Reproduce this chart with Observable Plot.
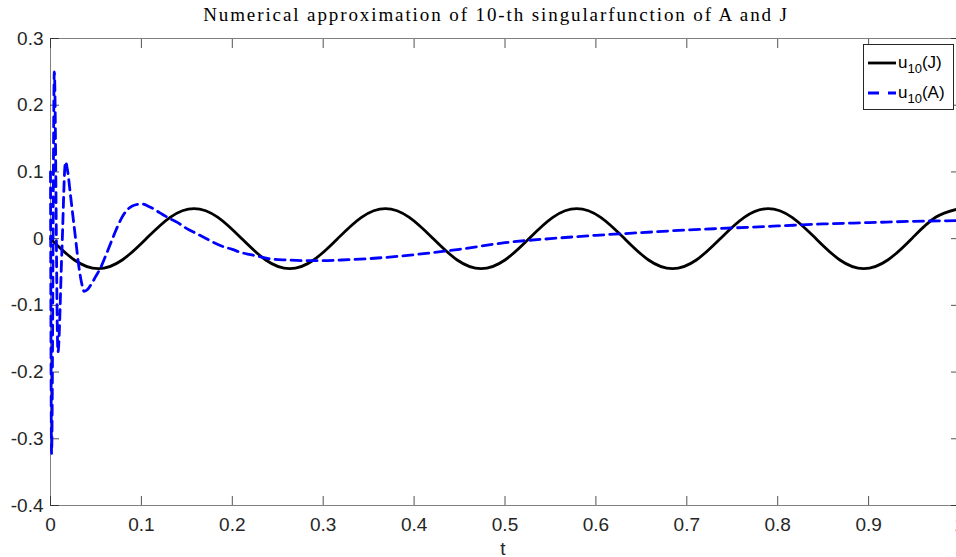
<!DOCTYPE html>
<html><head><meta charset="utf-8">
<script src="https://cdn.jsdelivr.net/npm/d3@7"></script>
<script src="https://cdn.jsdelivr.net/npm/@observablehq/plot@0.6"></script>
<style>
html,body{margin:0;padding:0;background:#fff;overflow:hidden;}
#wrap{position:relative;width:956px;height:557px;overflow:hidden;}
#legend{position:absolute;left:863px;top:44px;width:91px;height:66px;border:1px solid #262626;background:#fff;font-family:"Liberation Sans",Arial,sans-serif;font-size:17px;color:#000;box-sizing:border-box;}
#legend .row{position:absolute;left:3px;height:22px;display:flex;align-items:center;white-space:nowrap;}
#legend sub{font-size:13px;vertical-align:-5px;line-height:0;}
</style></head>
<body><div id="wrap"></div>
<script>
const title = "Numerical approximation of 10-th singularfunction of A and J";
const xLabel = "t";
const xTicks = [0, 0.1, 0.2, 0.3, 0.4, 0.5, 0.6, 0.7, 0.8, 0.9, 1];
const yTicks = [-0.4, -0.3, -0.2, -0.1, 0, 0.1, 0.2, 0.3];
const seriesNames = ["J", "A"];
const seriesColors = ["#000000", "#0000ff"];

// u10(J): read at eighth-period points
const tJ = [0, 0.0263, 0.0526, 0.0789, 0.1053, 0.1316, 0.1579, 0.1842, 0.2105, 0.2368,
  0.2632, 0.2895, 0.3158, 0.3421, 0.3684, 0.3947, 0.4211, 0.4474, 0.4737, 0.5,
  0.5263, 0.5526, 0.5789, 0.6053, 0.6316, 0.6579, 0.6842, 0.7105, 0.7368, 0.7632,
  0.7895, 0.8158, 0.8421, 0.8684, 0.8947, 0.9211, 0.9474, 0.9737, 1.0];
const uJ = [0, -0.032, -0.045, -0.032, 0, 0.032, 0.045, 0.032, 0, -0.032,
  -0.045, -0.032, 0, 0.032, 0.045, 0.032, 0, -0.032, -0.045, -0.032,
  0, 0.032, 0.045, 0.032, 0, -0.032, -0.045, -0.032, 0, 0.032,
  0.045, 0.032, 0, -0.032, -0.045, -0.032, 0, 0.032, 0.045];

// u10(A)
const tA = [0, 0.0012, 0.0042, 0.0082, 0.0125, 0.0165, 0.019, 0.022, 0.025, 0.028,
  0.031, 0.034, 0.037, 0.041, 0.045, 0.05, 0.055, 0.06, 0.065, 0.07,
  0.075, 0.08, 0.085, 0.09, 0.1, 0.11, 0.12, 0.13, 0.14, 0.15,
  0.16, 0.17, 0.18, 0.19, 0.2, 0.21, 0.22, 0.23, 0.24, 0.26,
  0.28, 0.3, 0.32, 0.35, 0.4, 0.45, 0.5, 0.55, 0.6, 0.65,
  0.7, 0.75, 0.8, 0.85, 0.9, 0.95, 1.0];
const uA = [0.1, -0.322, 0.25, -0.17, -0.02, 0.115, 0.1, 0.065, 0.03, -0.005,
  -0.04, -0.065, -0.079, -0.076, -0.068, -0.056, -0.044, -0.028, -0.011, 0.006,
  0.022, 0.035, 0.044, 0.049, 0.052, 0.047, 0.039, 0.031, 0.024, 0.015,
  0.008, 0.001, -0.006, -0.012, -0.016, -0.021, -0.024, -0.027, -0.03, -0.032,
  -0.033, -0.033, -0.032, -0.03, -0.024, -0.016, -0.006, 0.0, 0.005, 0.009,
  0.013, 0.016, 0.019, 0.022, 0.024, 0.026, 0.027];

const dataJ = tJ.map((t, i) => ({t, u: uJ[i]}));
const dataA = tA.map((t, i) => ({t, u: uA[i]}));
const fmt = d => Math.abs(d) < 1e-9 ? "0" : String(+d.toFixed(1));
const axisColor = "#262626";

const chart = Plot.plot({
  width: 956,
  height: 557,
  marginLeft: 50,
  marginRight: -3,
  marginTop: 38,
  marginBottom: 52,
  style: {fontFamily: "'Liberation Sans', Arial, sans-serif", fontSize: "19px", background: "#fff", color: axisColor},
  x: {domain: [0, 1]},
  y: {domain: [-0.4, 0.3]},
  marks: [
    Plot.frame({stroke: "#808080", strokeWidth: 1}),
    Plot.axisX(xTicks, {anchor: "bottom", tickSize: -9, tickPadding: 21, tickFormat: fmt, label: null, strokeWidth: 0.8, color: axisColor}),
    Plot.axisX(xTicks, {anchor: "top", tickSize: -9, tickFormat: () => "", label: null, strokeWidth: 0.8, color: axisColor}),
    Plot.axisY(yTicks, {anchor: "left", tickSize: -9, tickPadding: 16, tickFormat: fmt, label: null, strokeWidth: 0.8, color: axisColor}),
    Plot.axisY(yTicks, {anchor: "right", tickSize: -9, tickFormat: () => "", label: null, strokeWidth: 0.8, color: axisColor}),
    Plot.line(dataJ, {x: "t", y: "u", stroke: seriesColors[0], strokeWidth: 2.8, curve: "natural"}),
    Plot.line(dataA, {x: "t", y: "u", stroke: seriesColors[1], strokeWidth: 2.8, strokeDasharray: "10,6", curve: "monotone-x"}),
    Plot.text([title], {frameAnchor: "top", dy: -24, dx: -9, lineAnchor: "middle", fontFamily: "'Liberation Serif', 'DejaVu Serif', serif", fontSize: 19, fill: "#000"}),
    Plot.text([xLabel], {frameAnchor: "bottom", dy: 43, dx: -2, lineAnchor: "middle", fontSize: 19, fill: axisColor})
  ]
});
d3.select(chart).selectAll("text").filter(function() { return this.textContent === title; })
  .style("letter-spacing", "1.9px");
const wrap = document.getElementById("wrap");
wrap.appendChild(chart);

const legend = document.createElement("div");
legend.id = "legend";
seriesNames.forEach((name, i) => {
  const row = document.createElement("div");
  row.className = "row";
  row.style.top = (7 + i * 30) + "px";
  const dash = i === 1 ? 'stroke-dasharray="11,9"' : "";
  row.innerHTML = `<svg width="30" height="10" style="margin-right:1px"><line x1="1" y1="5" x2="29" y2="5" stroke="${seriesColors[i]}" stroke-width="2.8" ${dash}/></svg><span>u<sub>10</sub>(${name})</span>`;
  legend.appendChild(row);
});
wrap.appendChild(legend);
</script>
</body></html>
